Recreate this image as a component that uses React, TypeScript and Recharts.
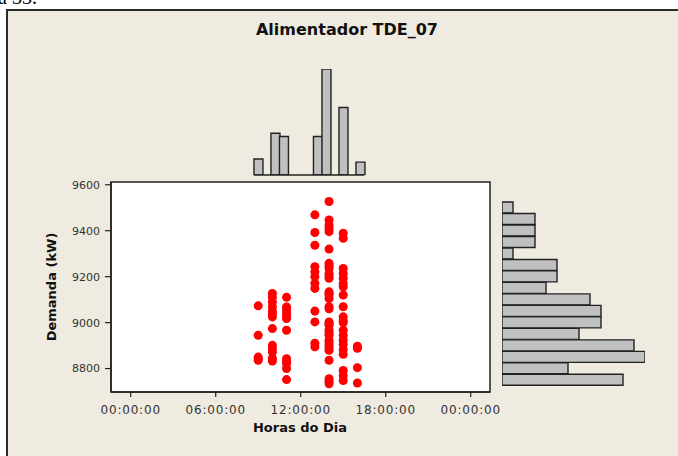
import { Bar, BarChart, ReferenceArea, ReferenceLine, Scatter, ScatterChart, XAxis, YAxis } from 'recharts';

// horas com medições (colunas do gráfico de dispersão)
const hours = [9, 10, 11, 13, 14, 15, 16];

// demanda (kW) lida em cada hora
const demand09 = [9073, 8945, 8850, 8843, 8836];
const demand10 = [9127, 9110, 9090, 9069, 9050, 9040, 9025, 8974, 8901, 8885, 8872, 8845, 8833];
const demand11 = [9110, 9068, 9055, 9040, 9025, 9018, 8967, 8843, 8830, 8822, 8800, 8752];
const demand13 = [9469, 9392, 9337, 9243, 9221, 9200, 9171, 9149, 9050, 9003, 8910, 8895];
const demand14 = [
  9527, 9447, 9425, 9410, 9396, 9320, 9258, 9248, 9236, 9214, 9205, 9193, 9134, 9127, 9120, 9105, 9069,
  9060, 9003, 8995, 8989, 8967, 8955, 8945, 8923, 8912, 8901, 8890, 8880, 8836, 8756, 8745, 8734,
];
const demand15 = [
  9389, 9367, 9236, 9214, 9193, 9171, 9156, 9120, 9069, 9025, 9008, 9000, 8967, 8945, 8923, 8905, 8882,
  8862, 8792, 8770, 8748,
];
const demand16 = [8897, 8888, 8804, 8737];
const demandByHour = [demand09, demand10, demand11, demand13, demand14, demand15, demand16];

// histograma marginal das horas (centro da classe, contagem)
const hourBins = [9.0, 10.2, 10.8, 13.2, 13.8, 15.0, 16.2];
const hourCounts = [5, 13, 12, 12, 33, 21, 4];
const hourBinWidth = 0.6;

// histograma marginal da demanda
const demandBins = [9500, 9450, 9400, 9350, 9300, 9250, 9200, 9150, 9100, 9050, 9000, 8950, 8900, 8850, 8800, 8750];
const demandCounts = [1, 3, 3, 3, 1, 5, 5, 4, 8, 9, 9, 7, 12, 13, 6, 11];

const xTicks = [0, 6, 12, 18, 24];
const yTicks = [8800, 9000, 9200, 9400, 9600];

const X_DOMAIN: [number, number] = [-1.39, 25.36];
const Y_DOMAIN: [number, number] = [8698, 9612];

const points = hours.flatMap((h, i) => demandByHour[i].map((kw) => ({ hour: h, kw })));
const hourHist = hourBins.map((hour, i) => ({ hour, count: hourCounts[i] }));
const demandHist = demandBins.map((kw, i) => ({ kw, count: demandCounts[i] }));

const fmtHour = (v: number) => `${String(v % 24).padStart(2, '0')}:00:00`;

const INK = '#222';
const BG = '#EFEBE0';
const SANS = 'DejaVu Sans, sans-serif';

export default function App() {
  return (
    <div style={{ position: 'absolute', left: 0, top: 0, width: 678, height: 456, background: '#fff', overflow: 'hidden' }}>
      <div
        style={{
          position: 'absolute',
          left: -2,
          top: -13,
          fontFamily: 'Liberation Serif, serif',
          fontSize: 20,
          lineHeight: '20px',
          color: '#000',
          whiteSpace: 'nowrap',
        }}
      >
        a 33.
      </div>
      <div
        style={{
          position: 'absolute',
          left: 6,
          top: 9,
          width: 700,
          height: 470,
          background: BG,
          borderTop: '2px solid #2a2a2a',
          borderLeft: '2px solid #2a2a2a',
        }}
      />

      <div
        style={{
          position: 'absolute',
          left: 197,
          top: 22,
          width: 300,
          textAlign: 'center',
          fontFamily: SANS,
          fontWeight: 'bold',
          fontSize: 16,
          lineHeight: '16px',
          color: '#111',
        }}
      >
        Alimentador TDE_07
      </div>

      {/* histograma das horas */}
      <div style={{ position: 'absolute', left: 0, top: 0 }}>
        <BarChart width={500} height={180} data={hourHist} margin={{ top: 69, right: 10, bottom: 5, left: 111 }} barCategoryGap={0} barGap={0}>
          <XAxis type="number" dataKey="hour" domain={X_DOMAIN} allowDataOverflow hide />
          <YAxis type="number" domain={[0, 33]} allowDataOverflow hide />
          <Bar dataKey="count" fill="#C0C0C0" stroke={INK} strokeWidth={1.4} isAnimationActive={false} />
          <ReferenceLine
            segment={[
              { x: hourBins[0] - hourBinWidth / 2, y: 0 },
              { x: hourBins[hourBins.length - 1] + hourBinWidth / 2, y: 0 },
            ]}
            stroke={INK}
            strokeWidth={1.4}
            ifOverflow="visible"
          />
        </BarChart>
      </div>

      {/* histograma da demanda */}
      <div style={{ position: 'absolute', left: 490, top: 0 }}>
        <BarChart
          width={188}
          height={456}
          layout="vertical"
          data={demandHist}
          margin={{ top: 182, right: 33, bottom: 64, left: 12 }}
          barCategoryGap={0}
          barGap={0}
        >
          <XAxis type="number" domain={[0, 13]} allowDataOverflow hide />
          <YAxis type="number" dataKey="kw" domain={Y_DOMAIN} allowDataOverflow reversed hide />
          <Bar dataKey="count" fill="#C0C0C0" stroke={INK} strokeWidth={1.4} isAnimationActive={false} />
        </BarChart>
      </div>

      {/* dispersão */}
      <div style={{ position: 'absolute', left: 0, top: 0 }}>
        <ScatterChart width={500} height={456} margin={{ top: 182, right: 10, bottom: 24, left: 51 }}>
          <ReferenceArea
            x1={X_DOMAIN[0]}
            x2={X_DOMAIN[1]}
            y1={Y_DOMAIN[0]}
            y2={Y_DOMAIN[1]}
            fill="#fff"
            fillOpacity={1}
            stroke={INK}
            strokeWidth={1.5}
            ifOverflow="visible"
          />
          <XAxis
            type="number"
            dataKey="hour"
            domain={X_DOMAIN}
            allowDataOverflow
            ticks={xTicks}
            tickFormatter={fmtHour}
            height={40}
            tickSize={5}
            tickMargin={8}
            axisLine={{ stroke: INK, strokeWidth: 1.5 }}
            tickLine={{ stroke: INK, strokeWidth: 1.2 }}
            tick={{ fill: '#333', fontSize: 12, fontFamily: SANS, letterSpacing: 0.8 }}
          />
          <YAxis
            type="number"
            dataKey="kw"
            domain={Y_DOMAIN}
            allowDataOverflow
            ticks={yTicks}
            width={60}
            tickSize={6}
            tickMargin={5}
            axisLine={{ stroke: INK, strokeWidth: 1.5 }}
            tickLine={{ stroke: INK, strokeWidth: 1.2 }}
            tick={{ fill: '#333', fontSize: 11, fontFamily: SANS }}
          />
          <Scatter data={points} fill="#FF0000" isAnimationActive={false} />
        </ScatterChart>
      </div>

      <div
        style={{
          position: 'absolute',
          left: 200,
          top: 421,
          width: 200,
          textAlign: 'center',
          fontFamily: SANS,
          fontWeight: 'bold',
          fontSize: 13,
          lineHeight: '13px',
          color: '#111',
        }}
      >
        Horas do Dia
      </div>
      <div
        style={{
          position: 'absolute',
          left: -8,
          top: 280,
          width: 120,
          textAlign: 'center',
          fontFamily: SANS,
          fontWeight: 'bold',
          fontSize: 13,
          lineHeight: '14px',
          color: '#111',
          transform: 'rotate(-90deg)',
          transformOrigin: '60px 7px',
        }}
      >
        Demanda (kW)
      </div>
    </div>
  );
}
